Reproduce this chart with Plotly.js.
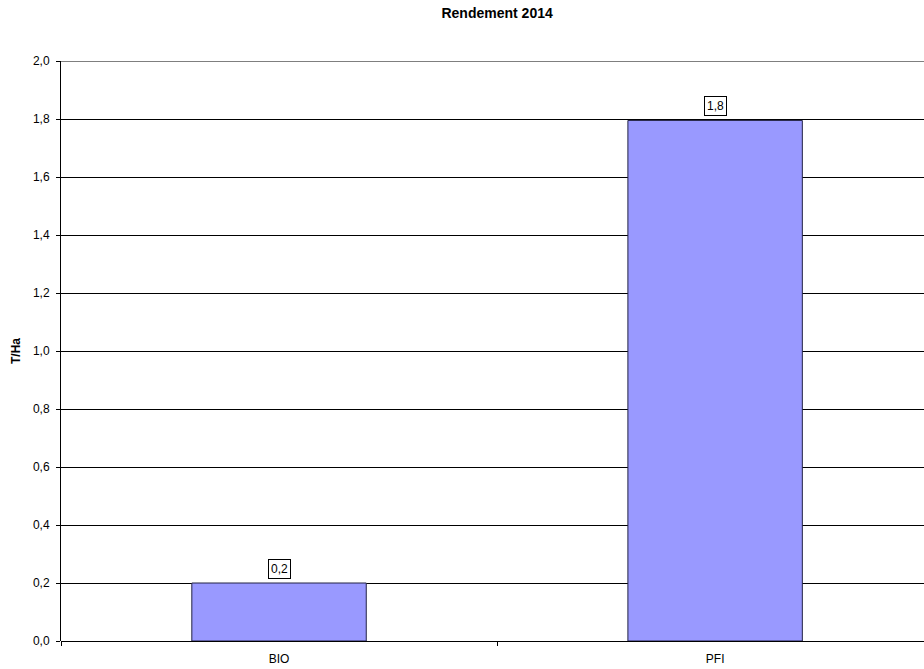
<!DOCTYPE html>
<html>
<head>
<meta charset="utf-8">
<script src="https://cdn.plot.ly/plotly-3.0.1.min.js"></script>
<style>html,body{margin:0;padding:0;background:#fff}#chart{width:924px;height:669px}</style>
</head>
<body>
<div id="chart"></div>
<script>
const categories = ["BIO", "PFI"];
const values = [0.2, 1.795];
const labels = ["0,2", "1,8"];
const yTickVals = [0, 0.2, 0.4, 0.6, 0.8, 1.0, 1.2, 1.4, 1.6, 1.8, 2.0];

const fontFam = "Liberation Sans, Arial, sans-serif";
const yMax = yTickVals[yTickVals.length - 1];
const trace = {
  type: "bar",
  x: categories,
  y: values,
  width: 0.4,
  marker: {color: "#9999FF", line: {color: "#222244", width: 1}},
  hoverinfo: "none"
};
const annotations = categories.map((c, i) => ({
  x: c, y: values[i], xref: "x", yref: "y",
  text: labels[i], showarrow: false, yanchor: "bottom", yshift: 4,
  font: {family: fontFam, size: 12, color: "#000"},
  bordercolor: "#000", borderwidth: 1, borderpad: 2, bgcolor: "#fff"
}));
const layout = {
  width: 924, height: 669,
  margin: {l: 61, r: 0, t: 61, b: 28},
  paper_bgcolor: "#fff", plot_bgcolor: "#fff",
  separators: ",.",
  showlegend: false,
  font: {family: fontFam, size: 12, color: "#000"},
  title: {text: "<b>Rendement 2014</b>", x: 0.538, xanchor: "center", y: 0.987, yanchor: "top",
          font: {family: fontFam, size: 14, color: "#000"}},
  xaxis: {
    range: [-0.5, 1.479], tickson: "boundaries", ticks: "outside", ticklen: 4,
    tickcolor: "#000", showgrid: false, showline: false, fixedrange: true,
    ticklabelstandoff: 9,
    tickfont: {family: fontFam, size: 12, color: "#000"}
  },
  yaxis: {
    range: [0, yMax], tickvals: yTickVals, tickformat: ".1f", ticks: "outside", ticklen: 4,
    tickcolor: "#000", showgrid: true, gridcolor: "#000", gridwidth: 1,
    zeroline: true, zerolinecolor: "#000", zerolinewidth: 1,
    showline: true, linecolor: "#000", linewidth: 1,
    ticklabelstandoff: 4,
    tickfont: {family: fontFam, size: 12, color: "#000"},
    title: {text: "<b>T/Ha</b>", standoff: 9, font: {family: fontFam, size: 12, color: "#000"}}
  },
  shapes: [{
    type: "line", xref: "paper", yref: "y", x0: 0, x1: 1, y0: yMax, y1: yMax,
    line: {color: "#000", width: 1}, layer: "below"
  }],
  annotations: annotations
};
Plotly.newPlot("chart", [trace], layout, {staticPlot: true, displayModeBar: false});
</script>
</body>
</html>
